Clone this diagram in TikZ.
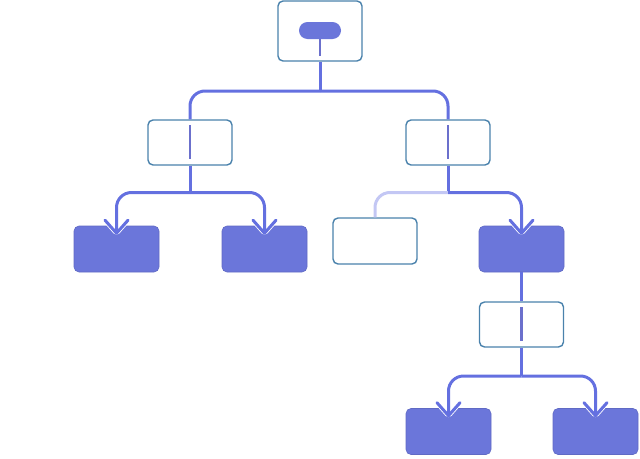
\documentclass[tikz,border=0pt]{standalone}
\usetikzlibrary{arrows.meta}

\definecolor{linkblue}{HTML}{6470E0}
\definecolor{boxfill}{HTML}{6B76DA}
\definecolor{boxedge}{HTML}{4A82AC}
\definecolor{paleline}{HTML}{C3C7F4}
\definecolor{stemblue}{HTML}{6B70CC}

\tikzset{
  openbox/.style={draw=boxedge, line width=1.4pt, fill=white, rounded corners=5pt,
    minimum width=84pt, minimum height=45pt, inner sep=0pt},
  fullbox/.style={fill=boxfill, draw=boxfill!90!black, line width=0.6pt, rounded corners=5pt,
    minimum width=85pt, minimum height=46pt, inner sep=0pt},
  link/.style={draw=linkblue, line width=3pt, rounded corners=15pt},
  stem/.style={draw=stemblue, line width=2.6pt},
  tip/.style={-{Straight Barb[length=13pt,width=23pt,round]}},
  halo/.style={draw=white, line width=8pt, -{Straight Barb[length=13pt,width=23pt,round]}},
}

\begin{document}
\begin{tikzpicture}[x=1pt,y=-1pt]
\useasboundingbox (0,0) rectangle (640,458);

% Wurzel
\node[openbox, minimum height=60pt] (root) at (320,31) {};
\node[fill=boxfill, rounded corners=8.5pt, minimum width=42pt, minimum height=17pt,
  inner sep=0pt] (rootpill) at (320,30.5) {};
\draw[stem] (rootpill.south) -- ([yshift=6pt]root.south);

% Ebene 1
\node[openbox] (left) at (190,142.5) {};
\node[openbox] (right) at (448,142.5) {};
\draw[stem] ([yshift=-6pt]left.north) -- ([yshift=7pt]left.south);
\draw[stem] ([yshift=-6pt]right.north) -- ([yshift=7pt]right.south);

% Ebene 2
\node[fullbox] (leftA) at (116.5,249) {};
\node[fullbox] (leftB) at (264.5,249) {};
\node[openbox, minimum height=46pt] (rightA) at (375,241) {};
\node[fullbox] (rightB) at (521.5,249) {};

% Ebene 3
\node[openbox] (mid) at (521.5,324.5) {};
\draw[stem] ([yshift=-6pt]mid.north) -- ([yshift=7pt]mid.south);
\node[fullbox] (midA) at (448.5,431.5) {};
\node[fullbox] (midB) at (595.5,431.5) {};

% Verzweigungen
\coordinate (rootsplit) at (320,91);
\coordinate (leftsplit) at (190,192.5);
\coordinate (rightsplit) at (448,192.5);
\coordinate (midsplit) at (521.5,376);

\draw[link] (root.south) -- (rootsplit);
\draw[link] (rootsplit) -| (left.north);
\draw[link] (rootsplit) -| (right.north);
\draw[link] (left.south) -- (leftsplit);
\draw[link] (right.south) -- (rightsplit);
\draw[link, draw=paleline] (rightsplit) -| (rightA.north);
\draw[link] (rightB.south) -- (mid.north);
\draw[link] (mid.south) -- (midsplit);

% Pfeile in die Kästen
\foreach \leaf/\fork in {leftA/leftsplit, leftB/leftsplit, rightB/rightsplit,
  midA/midsplit, midB/midsplit} {
  \draw[halo] ([yshift=8pt]\leaf.north) -- ([yshift=-9pt]\leaf.north);
  \draw[link, tip] (\fork) -| ([yshift=-9pt]\leaf.north);
}

\end{tikzpicture}
\end{document}
